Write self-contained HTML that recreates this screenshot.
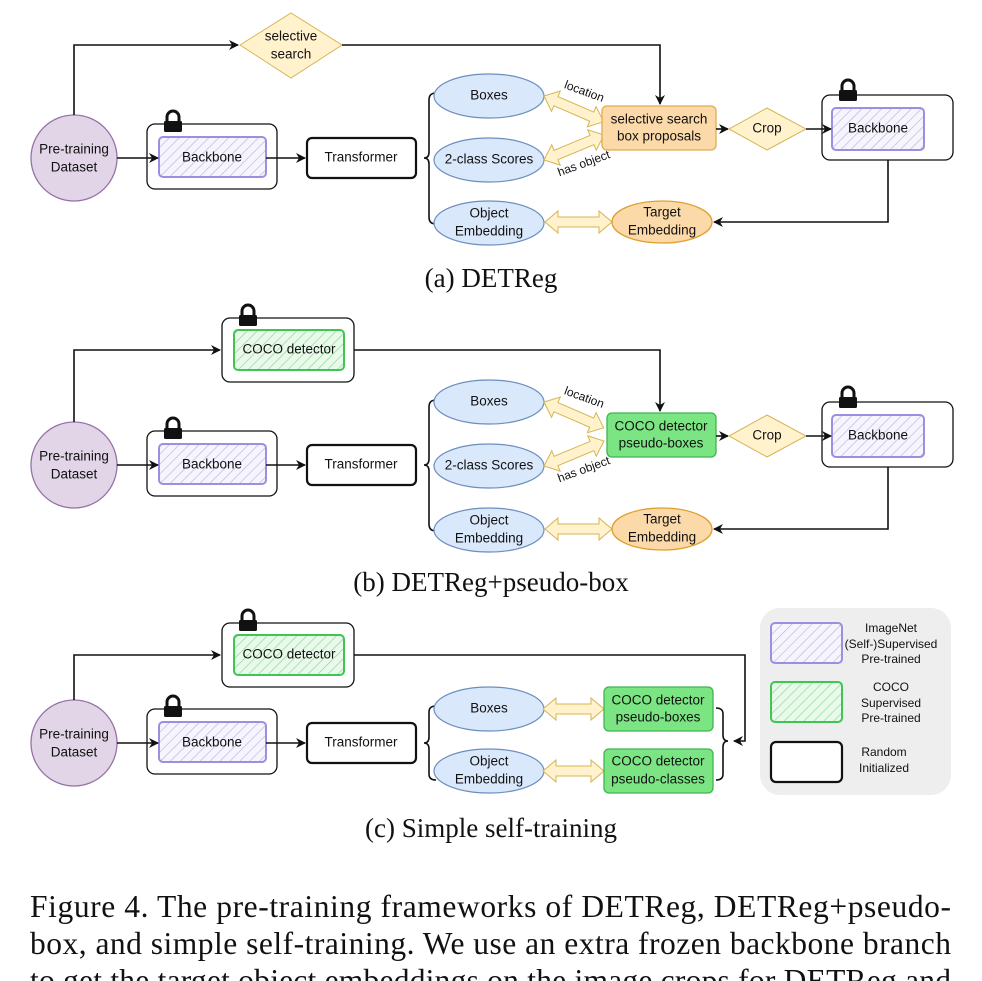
<!DOCTYPE html>
<html><head><meta charset="utf-8"><style>
html,body{margin:0;padding:0;background:#fff;width:982px;height:981px;overflow:hidden}
svg{display:block}
.t{font-family:"Liberation Sans",sans-serif;font-size:13.5px;fill:#111;text-anchor:middle;dominant-baseline:middle}
.s{font-family:"Liberation Sans",sans-serif;font-size:12px;fill:#111;text-anchor:middle;dominant-baseline:middle}
.cap{font-family:"Liberation Serif",serif;font-size:27px;fill:#111;text-anchor:middle}
.fig{font-family:"Liberation Serif",serif;font-size:31.5px;fill:#111}
.ln{stroke:#111;stroke-width:1.6;fill:none}
.dbl{fill:#fff2cc;stroke:#d6b656;stroke-width:1}
</style></head><body>
<svg width="982" height="981" viewBox="0 0 982 981" xmlns="http://www.w3.org/2000/svg">
<defs>
<pattern id="hp" width="7" height="7" patternUnits="userSpaceOnUse" patternTransform="rotate(45)">
<rect width="7" height="7" fill="#f6f5fd"/><line x1="0" y1="0" x2="0" y2="7" stroke="#b8b4e0" stroke-width="1.3"/></pattern>
<pattern id="hg" width="7" height="7" patternUnits="userSpaceOnUse" patternTransform="rotate(45)">
<rect width="7" height="7" fill="#e9f9ea"/><line x1="0" y1="0" x2="0" y2="7" stroke="#8fd59a" stroke-width="1.3"/></pattern>
<marker id="ar" markerWidth="10" markerHeight="10" refX="9" refY="5" orient="auto" markerUnits="userSpaceOnUse">
<path d="M0,0 L10,5 L0,10 L3,5 z" fill="#111"/></marker>
<g id="lock"><path d="M-6,0 V-4 A6,6 0 0 1 6,-4 V0" fill="none" stroke="#111" stroke-width="3"/><rect x="-9" y="0" width="18" height="11" rx="1.5" fill="#111"/></g>
<g id="bb"><rect x="147" y="-34" width="130" height="65" rx="8" fill="#fff" stroke="#111" stroke-width="1.3"/>
<rect x="159" y="-21" width="107" height="40" rx="4" fill="url(#hp)" stroke="#9b90e0" stroke-width="2"/>
<text class="t" x="212" y="0">Backbone</text><use href="#lock" x="173" y="-37"/></g>
<g id="circ"><circle cx="74" cy="0" r="43" fill="#e1d5e7" stroke="#9673a6" stroke-width="1.3"/>
<text class="t" x="74" y="-8">Pre-training</text><text class="t" x="74" y="10">Dataset</text></g>
<g id="tr"><rect x="307" y="-20" width="109" height="40" rx="5" fill="#fff" stroke="#111" stroke-width="2.2"/>
<text class="t" x="361" y="0">Transformer</text></g>
<g id="ell"><ellipse cx="0" cy="0" rx="55" ry="22" fill="#dae8fc" stroke="#6c8ebf" stroke-width="1.2"/></g>
<g id="coco"><rect x="222" y="-32" width="132" height="64" rx="8" fill="#fff" stroke="#111" stroke-width="1.3"/>
<rect x="234" y="-20" width="110" height="40" rx="4" fill="url(#hg)" stroke="#3fc554" stroke-width="2"/>
<text class="t" x="289" y="0">COCO detector</text><use href="#lock" x="248" y="-35"/></g>
</defs>

<!-- ===== Panel A ===== -->
<use href="#circ" x="0" y="158"/>
<path class="ln" d="M74,115 V45 H238" marker-end="url(#ar)"/>
<polygon points="240,45 291,13 342,45 291,78" fill="#fff2cc" stroke="#d6b656"/>
<text class="t" x="291" y="37">selective</text><text class="t" x="291" y="55">search</text>
<path class="ln" d="M342,45 H660 V104" marker-end="url(#ar)"/>
<use href="#bb" x="0" y="158"/>
<path class="ln" d="M117,158 H158" marker-end="url(#ar)"/>
<path class="ln" d="M266,158 H305" marker-end="url(#ar)"/>
<use href="#tr" x="0" y="158"/>
<path class="ln" d="M436,93 Q429,93 429,100 V152 Q429,158 424,158 Q429,158 429,164 V217 Q429,224 436,224" stroke-width="1.4"/>
<use href="#ell" x="489" y="96"/><text class="t" x="489" y="96">Boxes</text>
<use href="#ell" x="489" y="160"/><text class="t" x="489" y="160">2-class Scores</text>
<use href="#ell" x="489" y="223"/><text class="t" x="489" y="214">Object</text><text class="t" x="489" y="232">Embedding</text>
<polygon class="dbl" transform="translate(544,96) rotate(23.4)" points="0,0 13,-11 13,-5 52,-5 52,-11 65,0 52,11 52,5 13,5 13,11"/>
<polygon class="dbl" transform="translate(544,160) rotate(-22.6)" points="0,0 13,-11 13,-5 52,-5 52,-11 65,0 52,11 52,5 13,5 13,11"/>
<polygon class="dbl" transform="translate(545,222)" points="0,0 13,-11 13,-5 54,-5 54,-11 67,0 54,11 54,5 13,5 13,11"/>
<text class="s" transform="translate(584,92) rotate(20)">location</text>
<text class="s" transform="translate(584,164) rotate(-20)">has object</text>
<rect x="602" y="106" width="114" height="44" rx="5" fill="#fbd9a8" stroke="#e0ac50" stroke-width="1.3"/>
<text class="t" x="659" y="120">selective search</text><text class="t" x="659" y="137">box proposals</text>
<path class="ln" d="M716,129 H728" marker-end="url(#ar)"/>
<polygon points="729,129 767,108 806,129 767,150" fill="#fff2cc" stroke="#d6b656"/>
<text class="t" x="767" y="129">Crop</text>
<rect x="822" y="95" width="131" height="65" rx="8" fill="#fff" stroke="#111" stroke-width="1.3"/>
<rect x="832" y="108" width="92" height="42" rx="4" fill="url(#hp)" stroke="#9b90e0" stroke-width="2"/>
<text class="t" x="878" y="129">Backbone</text><use href="#lock" x="848" y="90"/>
<path class="ln" d="M806,129 H831" marker-end="url(#ar)"/>
<path class="ln" d="M888,160 V222 H714" marker-end="url(#ar)"/>
<ellipse cx="662" cy="222" rx="50" ry="21" fill="#fbd9a8" stroke="#e0a030" stroke-width="1.3"/>
<text class="t" x="662" y="213">Target</text><text class="t" x="662" y="231">Embedding</text>
<text class="cap" x="491" y="287">(a) DETReg</text>

<!-- ===== Panel B ===== -->
<use href="#circ" x="0" y="465"/>
<path class="ln" d="M74,422 V350 H220" marker-end="url(#ar)"/>
<use href="#coco" x="0" y="350"/>
<path class="ln" d="M354,350 H660 V411" marker-end="url(#ar)"/>
<use href="#bb" x="0" y="465"/>
<path class="ln" d="M117,465 H158" marker-end="url(#ar)"/>
<path class="ln" d="M266,465 H305" marker-end="url(#ar)"/>
<use href="#tr" x="0" y="465"/>
<path class="ln" d="M436,400 Q429,400 429,407 V459 Q429,465 424,465 Q429,465 429,471 V524 Q429,531 436,531" stroke-width="1.4"/>
<use href="#ell" x="489" y="402"/><text class="t" x="489" y="402">Boxes</text>
<use href="#ell" x="489" y="466"/><text class="t" x="489" y="466">2-class Scores</text>
<use href="#ell" x="489" y="530"/><text class="t" x="489" y="521">Object</text><text class="t" x="489" y="539">Embedding</text>
<polygon class="dbl" transform="translate(544,402) rotate(23.4)" points="0,0 13,-11 13,-5 52,-5 52,-11 65,0 52,11 52,5 13,5 13,11"/>
<polygon class="dbl" transform="translate(544,466) rotate(-22.6)" points="0,0 13,-11 13,-5 52,-5 52,-11 65,0 52,11 52,5 13,5 13,11"/>
<polygon class="dbl" transform="translate(545,529)" points="0,0 13,-11 13,-5 54,-5 54,-11 67,0 54,11 54,5 13,5 13,11"/>
<text class="s" transform="translate(584,398) rotate(20)">location</text>
<text class="s" transform="translate(584,470) rotate(-20)">has object</text>
<rect x="607" y="413" width="109" height="44" rx="5" fill="#7ae582" stroke="#3fb54f" stroke-width="1.3"/>
<text class="t" x="661" y="427">COCO detector</text><text class="t" x="661" y="444">pseudo-boxes</text>
<path class="ln" d="M716,436 H728" marker-end="url(#ar)"/>
<polygon points="729,436 767,415 806,436 767,457" fill="#fff2cc" stroke="#d6b656"/>
<text class="t" x="767" y="436">Crop</text>
<rect x="822" y="402" width="131" height="65" rx="8" fill="#fff" stroke="#111" stroke-width="1.3"/>
<rect x="832" y="415" width="92" height="42" rx="4" fill="url(#hp)" stroke="#9b90e0" stroke-width="2"/>
<text class="t" x="878" y="436">Backbone</text><use href="#lock" x="848" y="397"/>
<path class="ln" d="M806,436 H831" marker-end="url(#ar)"/>
<path class="ln" d="M888,467 V529 H714" marker-end="url(#ar)"/>
<ellipse cx="662" cy="529" rx="50" ry="21" fill="#fbd9a8" stroke="#e0a030" stroke-width="1.3"/>
<text class="t" x="662" y="520">Target</text><text class="t" x="662" y="538">Embedding</text>
<text class="cap" x="491" y="591">(b) DETReg+pseudo-box</text>

<!-- ===== Panel C ===== -->
<use href="#circ" x="0" y="743"/>
<path class="ln" d="M74,700 V655 H220" marker-end="url(#ar)"/>
<use href="#coco" x="0" y="655"/>
<path class="ln" d="M354,655 H745 V741 H734" marker-end="url(#ar)"/>
<use href="#bb" x="0" y="743"/>
<path class="ln" d="M117,743 H158" marker-end="url(#ar)"/>
<path class="ln" d="M266,743 H305" marker-end="url(#ar)"/>
<use href="#tr" x="0" y="743"/>
<path class="ln" d="M436,706 Q429,706 429,712 V737 Q429,743 424,743 Q429,743 429,749 V774 Q429,780 436,780" stroke-width="1.4"/>
<use href="#ell" x="489" y="709"/><text class="t" x="489" y="709">Boxes</text>
<use href="#ell" x="489" y="771"/><text class="t" x="489" y="762">Object</text><text class="t" x="489" y="780">Embedding</text>
<polygon class="dbl" transform="translate(543,709)" points="0,0 13,-11 13,-5 48,-5 48,-11 61,0 48,11 48,5 13,5 13,11"/>
<polygon class="dbl" transform="translate(543,771)" points="0,0 13,-11 13,-5 48,-5 48,-11 61,0 48,11 48,5 13,5 13,11"/>
<rect x="604" y="687" width="109" height="44" rx="5" fill="#7ae582" stroke="#3fb54f" stroke-width="1.3"/>
<text class="t" x="658" y="701">COCO detector</text><text class="t" x="658" y="718">pseudo-boxes</text>
<rect x="604" y="749" width="109" height="44" rx="5" fill="#7ae582" stroke="#3fb54f" stroke-width="1.3"/>
<text class="t" x="658" y="762">COCO detector</text><text class="t" x="658" y="780">pseudo-classes</text>
<path class="ln" d="M716,708 Q723,708 723,714 V735 Q723,741 728,741 Q723,741 723,747 V774 Q723,780 716,780" stroke-width="1.4"/>
<!-- legend -->
<rect x="760" y="608" width="191" height="187" rx="20" fill="#eeeeee"/>
<rect x="771" y="623" width="71" height="40" rx="4" fill="url(#hp)" stroke="#9b90e0" stroke-width="2"/>
<text class="s" x="891" y="629" font-size="11.5">ImageNet</text><text class="s" x="891" y="645" font-size="11.5">(Self-)Supervised</text><text class="s" x="891" y="660" font-size="11.5">Pre-trained</text>
<rect x="771" y="682" width="71" height="40" rx="4" fill="url(#hg)" stroke="#3fc554" stroke-width="2"/>
<text class="s" x="891" y="688" font-size="11.5">COCO</text><text class="s" x="891" y="704" font-size="11.5">Supervised</text><text class="s" x="891" y="719" font-size="11.5">Pre-trained</text>
<rect x="771" y="742" width="71" height="40" rx="5" fill="#fff" stroke="#111" stroke-width="2.2"/>
<text class="s" x="884" y="753" font-size="11.5">Random</text><text class="s" x="884" y="769" font-size="11.5">Initialized</text>
<text class="cap" x="491" y="837">(c) Simple self-training</text>

<!-- figure caption -->
<text class="fig" x="30" y="917" textLength="921" lengthAdjust="spacing">Figure 4.  The pre-training frameworks of DETReg, DETReg+pseudo-</text>
<text class="fig" x="30" y="954" textLength="921" lengthAdjust="spacing">box, and simple self-training.  We use an extra frozen backbone branch</text>
<text class="fig" x="30" y="991" textLength="921" lengthAdjust="spacing">to get the target object embeddings on the image crops for DETReg and</text>
</svg>
</body></html>
